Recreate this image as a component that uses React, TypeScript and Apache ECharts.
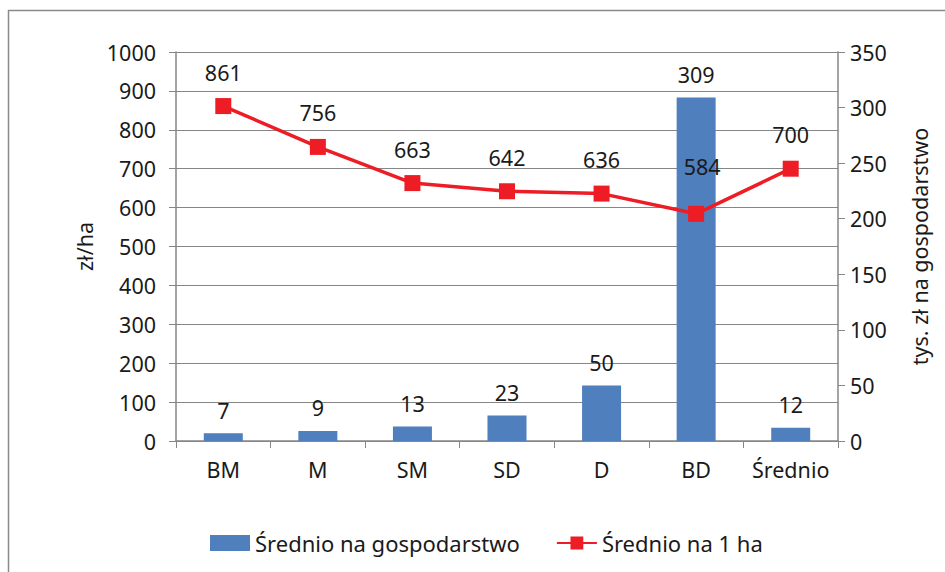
import React, { useEffect, useRef } from "react";
import * as echarts from "echarts";

const categories = ["BM", "M", "SM", "SD", "D", "BD", "Średnio"];
const perFarm = [7, 9, 13, 23, 50, 309, 12];
const perHa = [861, 756, 663, 642, 636, 584, 700];
const leftTicks = { min: 0, max: 1000, interval: 100 };
const rightTicks = { min: 0, max: 350, interval: 50 };
const barName = "Średnio na gospodarstwo";
const lineName = "Średnio na 1 ha";
const leftAxisName = "zł/ha";
const rightAxisName = "tys. zł na gospodarstwo";

const FONT = "Noto Sans";
const AXIS_COLOR = "#868686";

export default function App() {
  const ref = useRef<HTMLDivElement>(null);
  useEffect(() => {
    if (!ref.current) return;
    const chart = echarts.init(ref.current, null, { renderer: "svg" });
    const textBase = { fontFamily: FONT, fontSize: 21.5, color: "#1a1a1a" };
    chart.setOption({
      animation: false,
      backgroundColor: "#ffffff",
      textStyle: { fontFamily: FONT },
      grid: { left: 176, right: 107, top: 52, bottom: 131, containLabel: false },
      graphic: [
        { type: "line", shape: { x1: 8, y1: 10.5, x2: 945, y2: 10.5 }, style: { stroke: "#8a8a8a", lineWidth: 1.5 } },
        { type: "line", shape: { x1: 8.5, y1: 10, x2: 8.5, y2: 572 }, style: { stroke: "#8a8a8a", lineWidth: 1.5 } },
      ],
      legend: {
        bottom: 13,
        left: 205,
        itemWidth: 40,
        itemHeight: 16,
        itemGap: 36,
        textStyle: { ...textBase, fontSize: 22 },
        data: [
          { name: barName, icon: "rect" },
          { name: lineName },
        ],
      },
      xAxis: {
        type: "category",
        data: categories,
        boundaryGap: true,
        axisLine: { lineStyle: { color: AXIS_COLOR, width: 1.5 } },
        axisTick: { show: true, length: 7, interval: 0, alignWithLabel: false, lineStyle: { color: AXIS_COLOR } },
        axisLabel: { ...textBase, margin: 17, interval: 0, hideOverlap: false },
      },
      yAxis: [
        {
          type: "value",
          ...leftTicks,
          name: leftAxisName,
          nameLocation: "middle",
          nameRotate: 90,
          nameGap: 76,
          nameTextStyle: { ...textBase },
          axisLine: { show: true, lineStyle: { color: AXIS_COLOR, width: 1.5 } },
          axisTick: { show: true, length: 7, lineStyle: { color: AXIS_COLOR } },
          axisLabel: { ...textBase, margin: 20, formatter: (v: number) => String(v) },
          splitLine: { show: true, lineStyle: { color: AXIS_COLOR, width: 1 } },
        },
        {
          type: "value",
          ...rightTicks,
          position: "right",
          name: rightAxisName,
          nameLocation: "middle",
          nameRotate: 90,
          nameGap: 70,
          nameTextStyle: { ...textBase },
          axisLine: { show: true, lineStyle: { color: AXIS_COLOR, width: 1.5 } },
          axisTick: { show: true, length: 7, lineStyle: { color: AXIS_COLOR } },
          axisLabel: { ...textBase, margin: 12, formatter: (v: number) => String(v) },
          splitLine: { show: false },
        },
      ],
      series: [
        {
          name: barName,
          type: "bar",
          yAxisIndex: 1,
          data: perFarm,
          barWidth: 39,
          itemStyle: { color: "#4f7fbc" },
          label: { show: true, position: "top", distance: 12, ...textBase },
          z: 2,
        },
        {
          name: lineName,
          type: "line",
          yAxisIndex: 0,
          data: perHa.map((v, i) =>
            i === 5 ? { value: v, label: { distance: 28, offset: [6, 0] } } : v
          ),
          symbol: "rect",
          symbolSize: 16,
          lineStyle: { color: "#ee1c25", width: 3.5 },
          itemStyle: { color: "#ee1c25" },
          label: { show: true, position: "top", distance: 15, ...textBase },
          z: 3,
        },
      ],
    });
    return () => chart.dispose();
  }, []);
  return (
    <div
      ref={ref}
      style={{ position: "fixed", left: 0, top: 0, width: 945, height: 572, background: "#fff" }}
    />
  );
}
